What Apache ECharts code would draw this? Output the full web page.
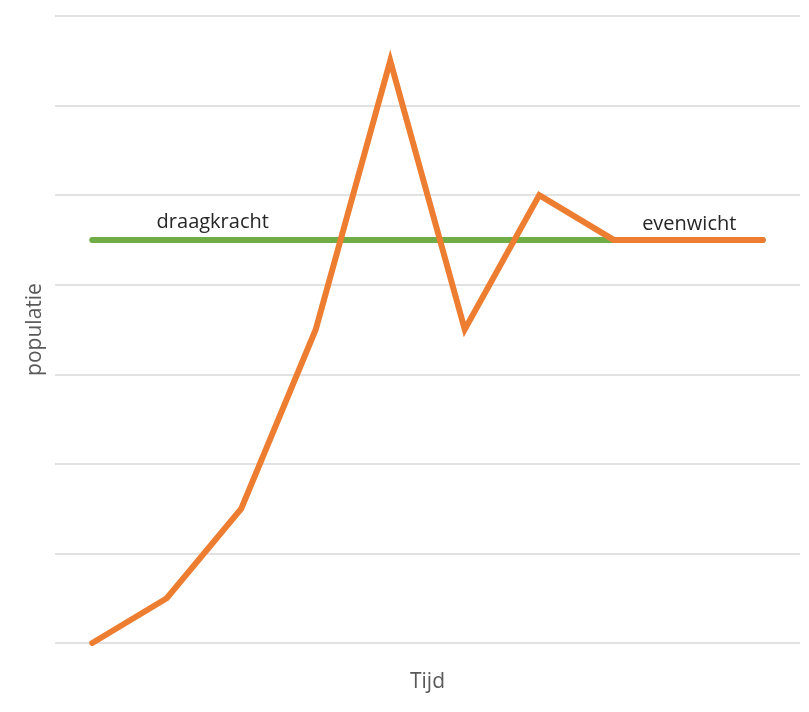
<!DOCTYPE html>
<html>
<head>
<meta charset="utf-8">
<script src="https://cdn.jsdelivr.net/npm/echarts@6/dist/echarts.min.js"></script>
<style>html,body{margin:0;padding:0;background:#fff}#c{width:809px;height:712px}</style>
</head>
<body>
<div id="c"></div>
<script>
const categories = ['1','2','3','4','5','6','7','8','9','10'];
const populatie = [0, 0.5, 1.5, 3.5, 6.5, 3.5, 5, 4.5, 4.5, 4.5];
const draagkracht = [4.5, 4.5, 4.5, 4.5, 4.5, 4.5, 4.5, 4.5, 4.5, 4.5];
const xName = 'Tijd';
const yName = 'populatie';
const labelDraag = 'draagkracht';
const labelEven = 'evenwicht';

const chart = echarts.init(document.getElementById('c'), null, {renderer:'canvas'});
const font = 'Open Sans';
chart.setOption({
  animation: false,
  grid: {left: 55, right: 9, top: 16, bottom: 69},
  xAxis: {
    type: 'category', data: categories, boundaryGap: true,
    axisLine: {show: false}, axisTick: {show: false}, axisLabel: {show: false},
    name: xName, nameLocation: 'middle', nameGap: 29,
    nameTextStyle: {fontFamily: font, fontSize: 21, color: '#595959'}
  },
  yAxis: {
    type: 'value', min: 0, max: 7, interval: 1,
    axisLine: {show: false}, axisTick: {show: false}, axisLabel: {show: false},
    splitLine: {lineStyle: {color: '#d9d9d9', width: 1.5}},
    name: yName, nameLocation: 'middle', nameGap: 9, nameRotate: 90,
    nameTextStyle: {fontFamily: font, fontSize: 21, color: '#595959'}
  },
  series: [
    {
      type: 'line',
      data: draagkracht.map((v, i) => i === 1 ? {value: v, label: {show: true, formatter: labelDraag}} : v),
      symbol: 'circle', symbolSize: 1, showSymbol: true,
      itemStyle: {color: 'rgba(0,0,0,0)'},
      lineStyle: {color: '#70AD47', width: 6, cap: 'round'},
      label: {show: false, position: 'top', offset: [46, -2], fontFamily: font, fontSize: 20, color: '#262626'},
      z: 2
    },
    {
      type: 'line',
      data: populatie.map((v, i) => i === 8 ? {value: v, label: {show: true, formatter: labelEven}} : v),
      symbol: 'circle', symbolSize: 1, showSymbol: true,
      itemStyle: {color: 'rgba(0,0,0,0)'},
      lineStyle: {color: '#ED7D31', width: 6, cap: 'round', join: 'miter'},
      label: {show: false, position: 'top', offset: [1, 0], fontFamily: font, fontSize: 20, color: '#262626'},
      z: 3
    }
  ]
});
</script>
</body>
</html>
